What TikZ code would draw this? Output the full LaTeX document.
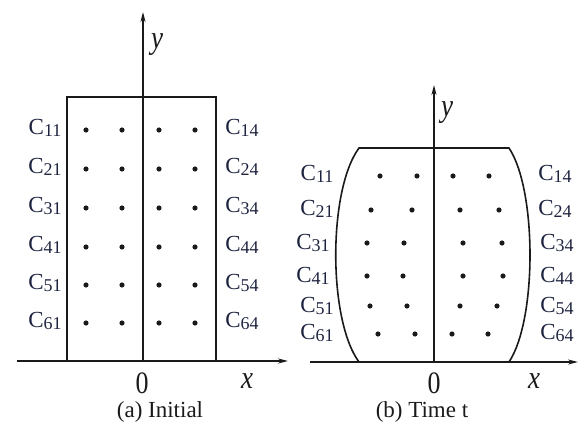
\documentclass[tikz,border=0pt]{standalone}
\usepackage{fontspec}
\setmainfont{Liberation Serif}
\usetikzlibrary{arrows.meta}
\definecolor{ink}{HTML}{1A1A1A}
\definecolor{lblInk}{HTML}{1E2440}
\newcommand{\celllbl}[1]{C{\fontsize{18}{18}\selectfont\raisebox{-2.5pt}{#1}}}
\newcommand{\tallchar}[1]{\scalebox{1}[1.2]{#1}}
\tikzset{
  every node/.append style = {text=ink},
  >=Stealth,
  % --- axes and outlines ---------------------------------------------------
  axis/.style    = {draw=ink, line width=1.5pt,
                    -{Stealth[length=10pt,width=5pt]}},
  body/.style    = {draw=ink, line width=1.6pt},
  % --- labels ---------------------------------------------------------------
  clbl/.style    = {font=\fontsize{23}{23}\selectfont, text=lblInk, inner sep=0pt},
  axlbl/.style   = {font=\fontsize{27}{27}\selectfont\itshape, inner sep=0pt},
  origin/.style  = {font=\fontsize{26}{26}\selectfont, inner sep=0pt},
  caption/.style = {font=\fontsize{23}{23}\selectfont, inner sep=0pt},
}

\begin{document}
\begin{tikzpicture}[x=1pt, y=-1pt]
\useasboundingbox (0,0) rectangle (582,433);

% ==================== (a) initial grid ====================================
\coordinate (a-xs) at (17,361);
\coordinate (a-xe) at (288,361);
\coordinate (a-ye) at (143,12);
\coordinate (a-o)  at (143,361);

\draw[body] (67,361) -- (67,97) -- (216,97) -- (216,361);
\draw[axis] (a-xs) -- (a-xe);
\draw[axis] (a-o) -- (a-ye);

% cells: four per row
\foreach \y in {130,169,208,247,285,323}{
  \foreach \x in {86,122,159,195}{ \fill[ink] (\x,\y) circle (2.6pt); }}

\foreach \r/\y in {1/128, 2/167, 3/206, 4/245, 5/283, 6/321}{
  \node[clbl] (a-c\r1) at (45,\y)  {\celllbl{\r1}};
  \node[clbl] (a-c\r4) at (242,\y) {\celllbl{\r4}};}

\node[axlbl]  (a-y)   at (157,45)  {\tallchar{y}};
\node[axlbl]  (a-x)   at (247,381) {\tallchar{x}};
\node[origin] (a-0)   at (142,383) {\tallchar{0}};
\node[caption] (a-cap) at (160,412) {(a) Initial};

% ==================== (b) deformed grid at time t =========================
\coordinate (b-xs) at (310,362);
\coordinate (b-xe) at (578,362);
\coordinate (b-ye) at (434,85);
\coordinate (b-o)  at (434,362);

\draw[body] (359,362) .. controls (328,320) and (328,190) .. (359,148)
            -- (509,148) .. controls (537,190) and (537,320) .. (509,362);
\draw[axis] (b-xs) -- (b-xe);
\draw[axis] (b-o) -- (b-ye);

% cells: pushed out in the middle rows
\foreach \y/\xa/\xb/\xc/\xd in {176/380/417/453/489, 210/371/412/460/499,
                                243/367/404/463/502, 276/367/403/463/503,
                                306/370/407/460/497, 334/378/415/452/488}{
  \foreach \x in {\xa,\xb,\xc,\xd}{ \fill[ink] (\x,\y) circle (2.6pt); }}

\foreach \r/\y/\xl/\xr in {1/174/317/555, 2/209/317/555, 3/243/313/557,
                           4/276/313/557, 5/306/317/557, 6/333/317/557}{
  \node[clbl] (b-c\r1) at (\xl,\y) {\celllbl{\r1}};
  \node[clbl] (b-c\r4) at (\xr,\y) {\celllbl{\r4}};}

\node[axlbl]  (b-y)   at (447,113) {\tallchar{y}};
\node[axlbl]  (b-x)   at (534,381) {\tallchar{x}};
\node[origin] (b-0)   at (434,383) {\tallchar{0}};
\node[caption] (b-cap) at (422,412) {(b) Time t};

\end{tikzpicture}
\end{document}
